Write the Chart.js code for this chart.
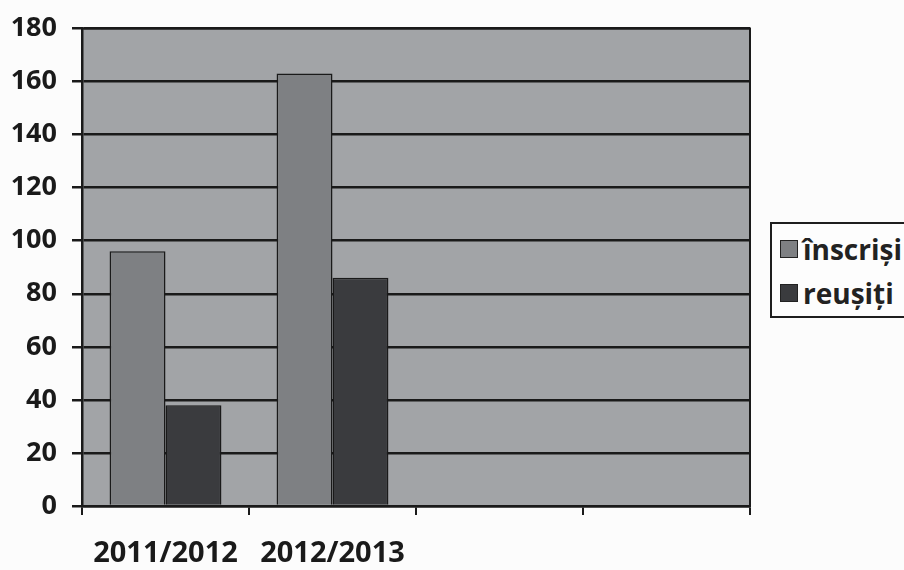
<!DOCTYPE html>
<html>
<head>
<meta charset="utf-8">
<script src="https://cdn.jsdelivr.net/npm/chart.js@4/dist/chart.umd.min.js"></script>
<style>
  html, body { margin: 0; padding: 0; background: #fcfcfc; }
  #wrap { position: relative; width: 904px; height: 570px; overflow: hidden; }
  #legend {
    position: absolute; left: 770px; top: 222px; width: 150px; height: 96px;
    border: 2px solid #1e1e1e; background: #fdfdfd; box-sizing: border-box;
    font-family: "Open Sans", sans-serif; font-weight: bold; font-size: 28px; color: #222;
  }
  .leg-item { position: absolute; left: 8px; display: flex; align-items: center; }
  .leg-box { width: 18px; height: 18px; border: 1.5px solid #222; margin-right: 5px; box-sizing: border-box; }
</style>
</head>
<body>
<div id="wrap">
  <canvas id="chart" width="904" height="570"></canvas>
  <div id="legend"></div>
</div>
<script>
// --- Data ---
const years = ['2011/2012', '2012/2013', '', ''];
const inscrisi = [96, 163, null, null];
const reusiti = [38, 86, null, null];
const seriesNames = ['înscriși', 'reușiți'];
const yTicks = { min: 0, max: 180, step: 20 };

const plotBg = '#a2a4a7';
const colInscrisi = '#7e8083';
const colReusiti = '#3a3b3e';
const ink = '#1a1a1a';
const xFont = { family: '"Open Sans", sans-serif', size: 29, weight: 'bold', lineHeight: 1 };
const yFont = { family: '"Open Sans", sans-serif', size: 27, weight: 'bold', lineHeight: 1 };

// plot area background + frame
const plotFrame = {
  id: 'plotFrame',
  beforeDraw(chart) {
    const { ctx, chartArea: a } = chart;
    ctx.save();
    ctx.fillStyle = plotBg;
    ctx.fillRect(a.left, a.top, a.right - a.left, a.bottom - a.top);
    ctx.restore();
  },
  afterDatasetsDraw(chart) {
    const { ctx, chartArea: a } = chart;
    ctx.save();
    ctx.strokeStyle = ink;
    ctx.lineWidth = 2;
    ctx.beginPath();
    ctx.moveTo(a.left, a.top);
    ctx.lineTo(a.right, a.top);
    ctx.lineTo(a.right, a.bottom);
    ctx.stroke();
    ctx.restore();
  }
};

const chart = new Chart(document.getElementById('chart').getContext('2d'), {
  type: 'bar',
  data: {
    labels: years,
    datasets: [
      { label: seriesNames[0], data: inscrisi, backgroundColor: colInscrisi, borderColor: ink, borderWidth: 1.5 },
      { label: seriesNames[1], data: reusiti, backgroundColor: colReusiti, borderColor: ink, borderWidth: 1.5 }
    ]
  },
  options: {
    responsive: false,
    animation: false,
    layout: { padding: { left: 0, right: 154, top: -3, bottom: 0 } },
    datasets: { bar: { categoryPercentage: 0.67, barPercentage: 1 } },
    plugins: { legend: { display: false }, tooltip: { enabled: false } },
    scales: {
      x: {
        afterFit(scale) { scale.height = 64; },
        grid: { drawOnChartArea: false, drawTicks: true, tickLength: 9, color: ink, lineWidth: 2 },
        border: { color: ink, width: 2.5 },
        ticks: { color: '#1a1a1a', font: xFont, padding: 24, maxRotation: 0, autoSkip: false }
      },
      y: {
        min: yTicks.min, max: yTicks.max,
        afterFit(scale) { scale.width = 82; },
        grid: { color: ink, lineWidth: 2.5, tickLength: 10 },
        border: { color: ink, width: 2.5 },
        ticks: { stepSize: yTicks.step, color: '#1a1a1a', font: yFont, padding: 15 }
      }
    }
  },
  plugins: [plotFrame]
});

// --- Legend ---
const legend = document.getElementById('legend');
chart.data.datasets.forEach((ds, i) => {
  const item = document.createElement('div');
  item.className = 'leg-item';
  item.style.top = (i === 0 ? 6 : 50) + 'px';
  item.innerHTML = `<span class="leg-box" style="background:${ds.backgroundColor}"></span><span>${ds.label}</span>`;
  legend.appendChild(item);
});
</script>
</body>
</html>
